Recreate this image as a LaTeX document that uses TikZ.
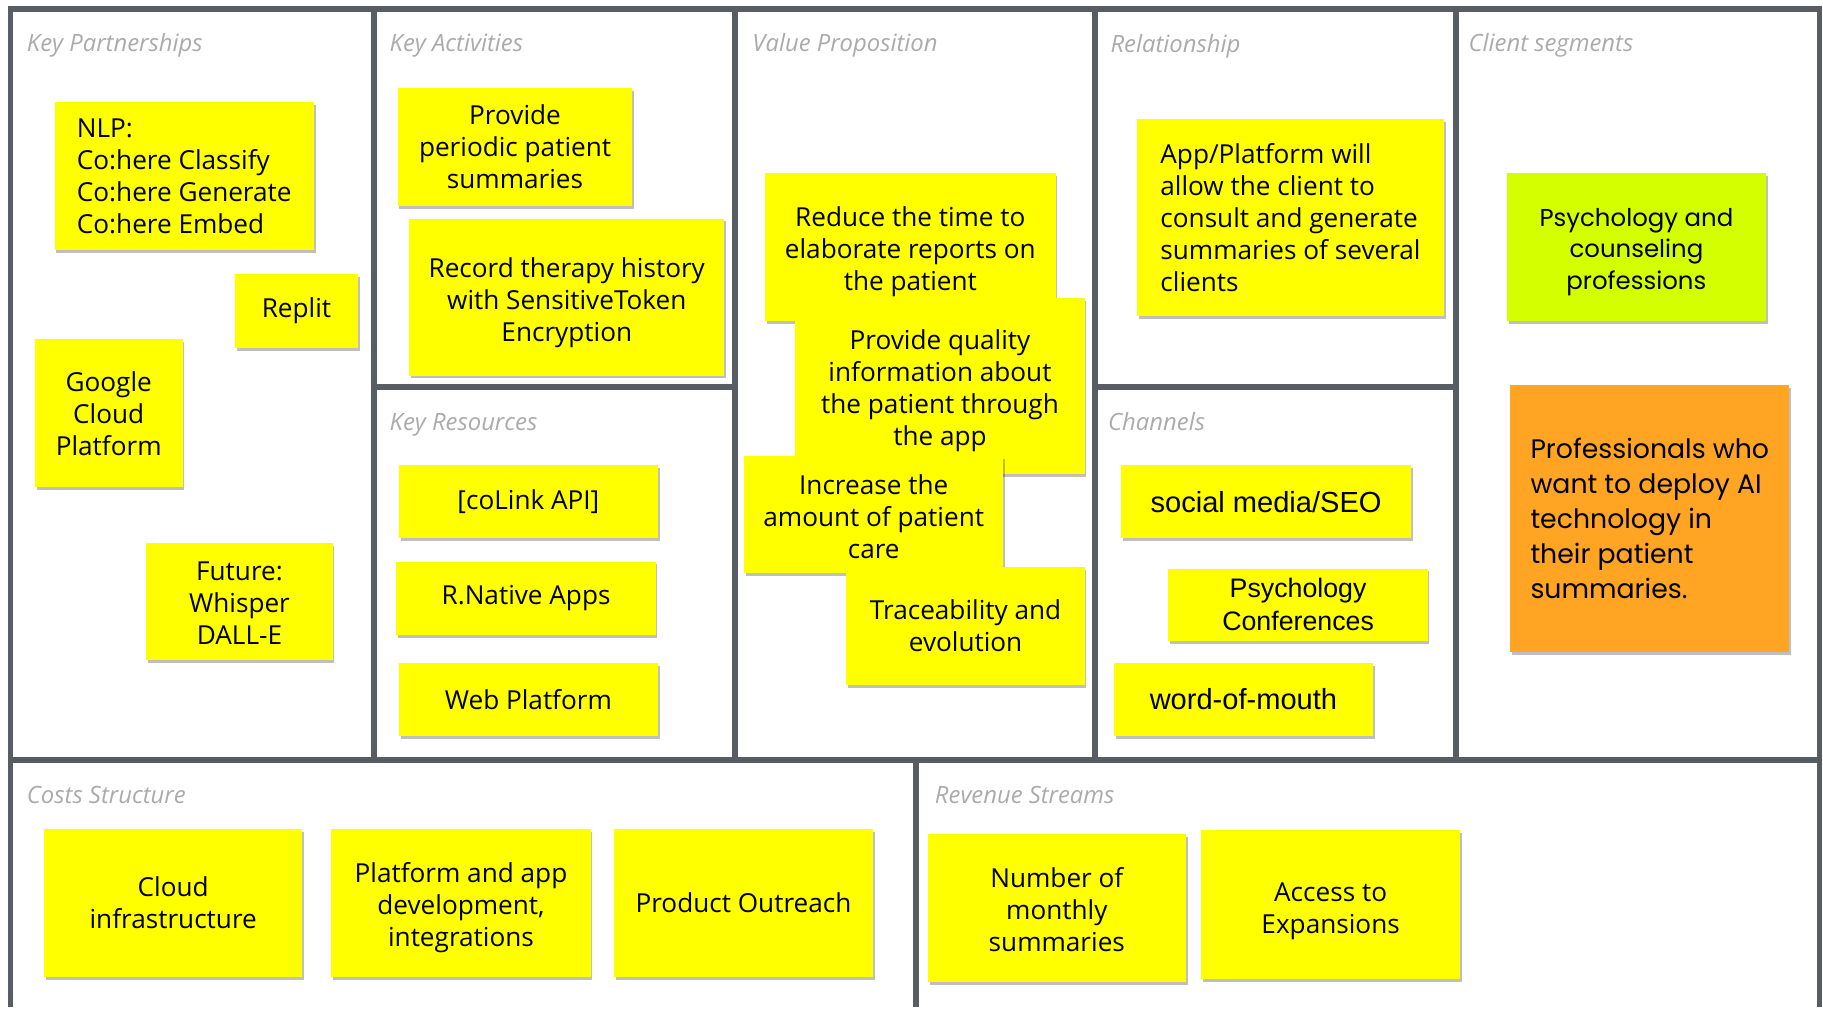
\documentclass[tikz,border=0pt]{standalone}
\usepackage{fontspec}
\setmainfont{Open Sans}
\newfontfamily\arialfont{Liberation Sans}
\newfontfamily\roundfont{Poppins}
\usetikzlibrary{shadows}
\definecolor{canvasline}{HTML}{585D63}
\definecolor{canvaslabel}{HTML}{ABABAB}
\definecolor{noteyellow}{HTML}{FFFF00}
\definecolor{notelime}{HTML}{D4FF00}
\definecolor{noteorange}{HTML}{FFA523}
\newcommand{\sinkto}[1]{\rule{0pt}{#1}}
\begin{document}
\begin{tikzpicture}[x=1pt,y=-1pt,
	wall/.style={draw=canvasline,line width=5pt},
	block/.style={anchor=base west,inner sep=0pt,text=canvaslabel,font=\fontsize{20.5}{24}\selectfont\itshape},
	note/.style={fill=noteyellow,align=center,inner sep=0pt,font=\fontsize{22.5}{27.5}\selectfont,
		drop shadow={shadow xshift=1.5pt,shadow yshift=-2.5pt,fill=black,opacity=0.25}},
	wh/.style 2 args={minimum width=#1,minimum height=#2}]
	\path[fill=white] (0,0) rectangle (1568,866);
	\draw[wall] (9,866) -- (9,8) -- (1565,8) -- (1565,866);
	\draw[wall] (9,654) -- (1565,654);
	\draw[wall] (322,8) -- (322,654);
	\draw[wall] (632,8) -- (632,654);
	\draw[wall] (942,8) -- (942,654);
	\draw[wall] (1252,8) -- (1252,654);
	\draw[wall] (322,333) -- (632,333);
	\draw[wall] (942,333) -- (1252,333);
	\draw[wall] (788,654) -- (788,866);

	\node (kp)   at (23,44)	[block]	{Key Partnerships};
	\node (ka)   at (335,44)	[block]	{Key Activities};
	\node (vp)   at (647,44)	[block]	{Value Proposition};
	\node (rel)  at (955,45)	[block]	{Relationship};
	\node (cs)   at (1263,44)	[block]	{Client segments};
	\node (kr)   at (335,370)	[block]	{Key Resources};
	\node (ch)   at (953,370)	[block]	{Channels};
	\node (cost) at (23,691)	[block]	{Costs Structure};
	\node (rev)  at (804,691)	[block]	{Revenue Streams};

	\node (nlp)      at (158.5,151.5)	[note, wh={223}{127}, align=left]	{NLP:\\Co:here Classify\\Co:here Generate\\Co:here Embed};
	\node (replit)   at (255,267.5)	[note, wh={106}{63}]	{Replit};
	\node (gcp)      at (93.5,355.5)	[note, wh={127}{127}]	{Google\\Cloud\\Platform};
	\node (future)   at (206,517.5)	[note, wh={160}{101}]	{\sinkto{19pt}Future:\\Whisper\\DALL-E};

	\node (periodic) at (443,126.5)	[note, wh={202}{101}]	{Provide\\periodic patient\\summaries};
	\node (record)   at (487.5,255.5)	[note, wh={271}{135}]	{\sinkto{27pt}Record therapy history\\with SensitiveToken\\Encryption};
	\node (colink)   at (454.5,431.5)	[note, wh={223}{63}]	{[coLink API]};
	\node (rnative)  at (452.5,514.5)	[note, wh={223}{63}]	{R.Native Apps};
	\node (webplat)  at (454.5,601.5)	[note, wh={223}{63}]	{Web Platform};

	\node (reduce)   at (783,212.5)	[note, wh={250}{127}]	{\sinkto{25pt}Reduce the time to\\elaborate reports on\\the patient};
	\node (quality)  at (808.5,332)	[note, wh={249}{152}]	{\sinkto{25pt}Provide quality\\information about\\the patient through\\the app};
	\node (increase) at (751.5,442.5)	[note, wh={223}{101}]	{\sinkto{21pt}Increase the\\amount of patient\\care};
	\node (trace)    at (830.5,538.5)	[note, wh={205}{101}]	{Traceability and\\evolution};

	\node (consult)  at (1110,187)	[note, wh={264}{170}, align=left]	{App/Platform will\\allow the client to\\consult and generate\\summaries of several\\clients};
	\node (social)   at (1089,431.5)	[note, wh={250}{63}, font=\arialfont\fontsize{25}{29}\selectfont]	{social media/SEO};
	\node (conf)     at (1116.5,520)	[note, wh={223}{62}, font=\arialfont\fontsize{23}{28}\selectfont]	{Psychology\\Conferences};
	\node (mouth)    at (1069.5,601.5)	[note, wh={223}{63}, font=\arialfont\fontsize{25}{29}\selectfont]	{word-of-mouth};

	\node (psych)    at (1407.5,212.5)	[note, wh={223}{127}, fill=notelime, font=\roundfont\fontsize{21}{27}\selectfont]	{\sinkto{24pt}Psychology and\\counseling\\professions};
	\node (profs)    at (1419,446)	[note, wh={240}{230}, fill=noteorange, align=left, font=\roundfont\fontsize{23}{30}\selectfont]	{Professionals who\\want to deploy AI\\technology in\\their patient\\summaries.};

	\node (cloud)    at (149,776.5)	[note, wh={222}{127}]	{Cloud\\infrastructure};
	\node (devel)    at (396.5,776.5)	[note, wh={223}{127}]	{\sinkto{25pt}Platform and app\\development,\\integrations};
	\node (outreach) at (639.5,776.5)	[note, wh={223}{127}]	{Product Outreach};
	\node (monthly)  at (909,781)	[note, wh={222}{128}]	{\sinkto{20pt}Number of\\monthly\\summaries};
	\node (access)   at (1144.5,778)	[note, wh={223}{128}]	{\sinkto{27pt}Access to\\Expansions};
\end{tikzpicture}
\end{document}
